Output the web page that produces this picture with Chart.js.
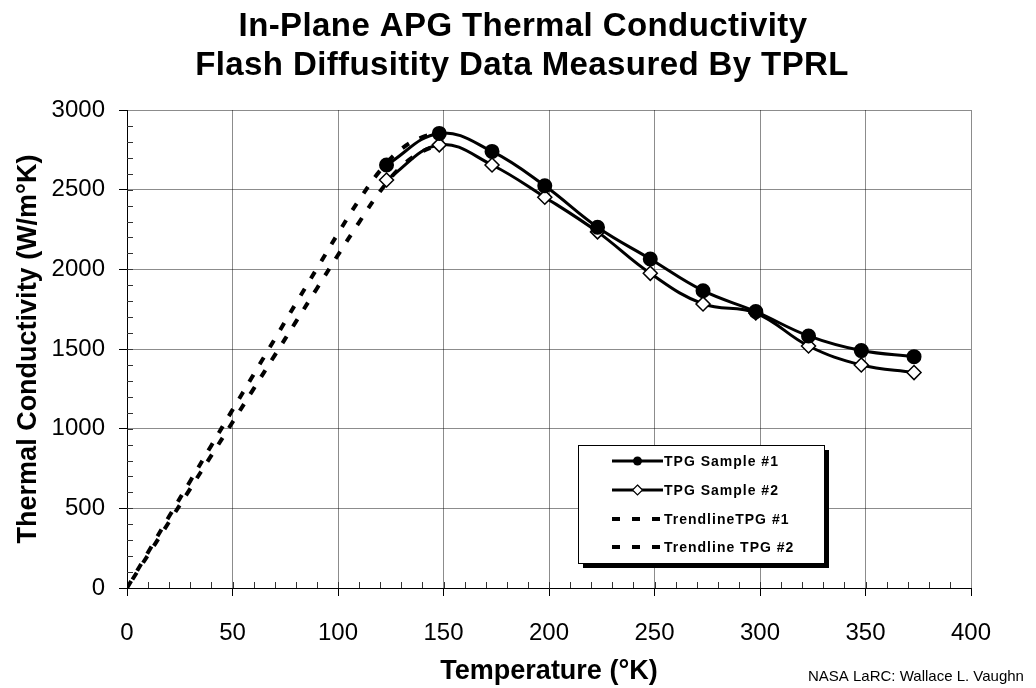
<!DOCTYPE html>
<html lang="en">
  <head>
    <meta charset="UTF-8" />
    <title>In-Plane APG Thermal Conductivity</title>
    <script src="https://cdn.jsdelivr.net/npm/chart.js"></script>
    <style>
      html, body { margin: 0; padding: 0; background: #fff; }
      canvas { display: block; }
    </style>
  </head>
  <body>
    <canvas id="tc-chart" width="1036" height="688"></canvas>

    <script>
      // data
      const titleLines = ["In-Plane APG Thermal Conductivity", "Flash Diffusitity Data Measured By TPRL"];
      const xTicks = { min: 0, max: 400, step: 50 };
      const yTicks = { min: 0, max: 3000, step: 500 };

      const temps = [123, 148, 173, 198, 223, 248, 273, 298, 323, 348, 373];
      const sample1 = [2655, 2853, 2740, 2524, 2264, 2065, 1866, 1735, 1582, 1490, 1452];
      const sample2 = [2561, 2781, 2655, 2453, 2235, 1975, 1783, 1726, 1519, 1400, 1352];

      const trendTemps = [0, 10, 20, 30, 40, 50, 60, 70, 80, 90, 100, 110, 120, 130, 140, 148];
      const trend1 = [0, 225, 450, 672, 895, 1118, 1340, 1562, 1785, 2005, 2225, 2435, 2620, 2755, 2830, 2853];
      const trend2 = [0, 208, 416, 624, 832, 1040, 1250, 1460, 1670, 1880, 2090, 2295, 2490, 2645, 2740, 2781];

      const seriesNames = ["TPG Sample #1", "TPG Sample #2", "TrendlineTPG #1", "Trendline TPG #2"];
      const credit = "NASA LaRC: Wallace L. Vaughn";

      const FONT = "'Liberation Sans', Arial, Helvetica, sans-serif";
      const pairs = (xs, ys) => xs.map((x, i) => ({ x: x, y: ys[i] }));

      // minor ticks, titles, legend box, credit
      const decorations = {
        id: "decorations",
        afterDraw(chart) {
          const ctx = chart.ctx;
          const area = chart.chartArea;
          const xs = chart.scales.x;
          const ys = chart.scales.y;

          ctx.save();
          ctx.strokeStyle = "#333";
          ctx.lineWidth = 1;
          ctx.beginPath();
          for (let v = 10; v < xTicks.max; v += 10) {
            const px = Math.round(xs.getPixelForValue(v)) + 0.5;
            ctx.moveTo(px, area.bottom);
            ctx.lineTo(px, area.bottom - 6);
          }
          for (let v = 100; v < yTicks.max; v += 100) {
            const py = Math.round(ys.getPixelForValue(v)) + 0.5;
            ctx.moveTo(area.left, py);
            ctx.lineTo(area.left + 6, py);
          }
          ctx.stroke();

          // title
          ctx.fillStyle = "#000";
          ctx.font = "bold 33px " + FONT;
          ctx.letterSpacing = "0.4px";
          ctx.textAlign = "center";
          ctx.textBaseline = "alphabetic";
          ctx.fillText(titleLines[0], 523, 36);
          ctx.fillText(titleLines[1], 522, 75);
          ctx.letterSpacing = "0px";

          // credit
          ctx.font = "15px " + FONT;
          ctx.textAlign = "left";
          ctx.fillText(credit, 808, 681);

          // legend box with drop shadow
          const bx = 578, by = 445, bw = 246, bh = 118;
          ctx.fillStyle = "#000";
          ctx.fillRect(bx + 5, by + 5, bw, bh);
          ctx.fillStyle = "#fff";
          ctx.fillRect(bx, by, bw, bh);
          ctx.strokeStyle = "#000";
          ctx.lineWidth = 1;
          ctx.strokeRect(bx + 0.5, by + 0.5, bw, bh);

          const rows = [461, 490, 519, 547];
          const lx0 = 612, lx1 = 663;
          chart.data.datasets.forEach((ds, i) => {
            const y = rows[i];
            ctx.strokeStyle = "#000";
            ctx.lineWidth = i < 2 ? 3 : 4;
            ctx.setLineDash(i < 2 ? [] : [8, 12]);
            ctx.beginPath();
            ctx.moveTo(lx0, y);
            ctx.lineTo(lx1, y);
            ctx.stroke();
            ctx.setLineDash([]);
            const mx = (lx0 + lx1) / 2;
            if (i === 0) {
              ctx.fillStyle = "#000";
              ctx.beginPath();
              ctx.arc(mx, y, 4.5, 0, Math.PI * 2);
              ctx.fill();
            } else if (i === 1) {
              ctx.fillStyle = "#fff";
              ctx.lineWidth = 1.2;
              ctx.beginPath();
              ctx.moveTo(mx, y - 5);
              ctx.lineTo(mx + 5, y);
              ctx.lineTo(mx, y + 5);
              ctx.lineTo(mx - 5, y);
              ctx.closePath();
              ctx.fill();
              ctx.stroke();
            }
            ctx.fillStyle = "#000";
            ctx.font = "bold 14px " + FONT;
            ctx.letterSpacing = "1px";
            ctx.textBaseline = "middle";
            ctx.fillText(ds.label, lx1 + 1, y + 1);
            ctx.letterSpacing = "0px";
          });
          ctx.restore();
        },
      };

      const gridColor = "rgba(0,0,0,0.45)";

      new Chart(document.getElementById("tc-chart").getContext("2d"), {
        type: "line",
        data: {
          datasets: [
            {
              label: seriesNames[0],
              data: pairs(temps, sample1),
              borderColor: "#000",
              backgroundColor: "#000",
              borderWidth: 3,
              pointStyle: "circle",
              pointRadius: 6,
              pointBackgroundColor: "#000",
              pointBorderColor: "#000",
              tension: 0.4,
            },
            {
              label: seriesNames[1],
              data: pairs(temps, sample2),
              borderColor: "#000",
              backgroundColor: "#fff",
              borderWidth: 3,
              pointStyle: "rectRot",
              pointRadius: 7,
              pointBackgroundColor: "#fff",
              pointBorderColor: "#000",
              pointBorderWidth: 1.5,
              tension: 0.4,
            },
            {
              label: seriesNames[2],
              data: pairs(trendTemps, trend1),
              borderColor: "#000",
              borderWidth: 4,
              borderDash: [8, 12],
              pointRadius: 0,
              tension: 0.4,
            },
            {
              label: seriesNames[3],
              data: pairs(trendTemps, trend2),
              borderColor: "#000",
              borderWidth: 4,
              borderDash: [8, 12],
              borderDashOffset: 10,
              pointRadius: 0,
              tension: 0.4,
            },
          ],
        },
        options: {
          responsive: false,
          animation: false,
          layout: { padding: { top: 110, right: 65, left: 0, bottom: 0 } },
          plugins: {
            legend: { display: false },
            title: { display: false },
            tooltip: { enabled: false },
          },
          scales: {
            x: {
              type: "linear",
              min: xTicks.min,
              max: xTicks.max,
              afterFit: (scale) => { scale.height = 100; },
              ticks: {
                stepSize: xTicks.step,
                color: "#000",
                font: { family: FONT, size: 24 },
                padding: 23,
                maxRotation: 0,
                callback: (v) => String(v),
              },
              grid: { color: gridColor, tickColor: "#000", tickLength: 8, lineWidth: 1 },
              border: { display: true, color: "#000", width: 1 },
              title: {
                display: true,
                text: "Temperature (°K)",
                color: "#000",
                font: { family: FONT, size: 27, weight: "bold" },
                padding: { top: 0, bottom: 0 },
              },
            },
            y: {
              min: yTicks.min,
              max: yTicks.max,
              afterFit: (scale) => { scale.width = 127; },
              ticks: {
                stepSize: yTicks.step,
                color: "#000",
                font: { family: FONT, size: 24 },
                padding: 14,
                callback: (v) => String(v),
              },
              grid: { color: gridColor, tickColor: "#000", tickLength: 8, lineWidth: 1 },
              border: { display: true, color: "#000", width: 1 },
              title: {
                display: true,
                text: "Thermal Conductivity (W/m°K)",
                color: "#000",
                font: { family: FONT, size: 27, weight: "bold" },
                padding: { top: 12, bottom: 0 },
              },
            },
          },
        },
        plugins: [decorations],
      });
    </script>
  </body>
</html>
